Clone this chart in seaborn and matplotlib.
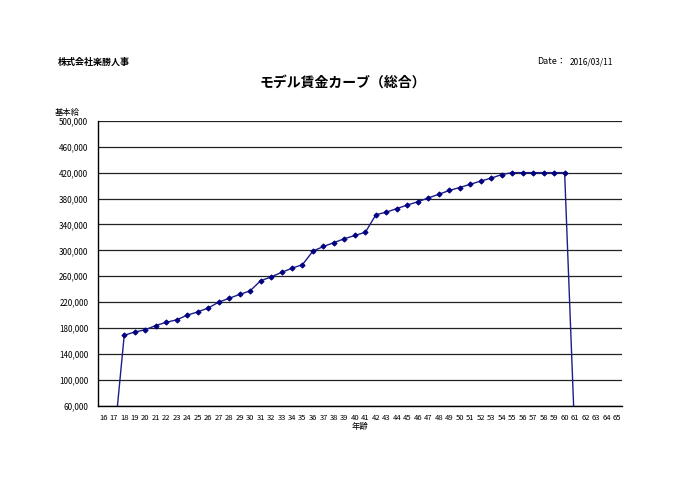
import numpy as np
import pandas as pd
import seaborn as sns
import matplotlib.pyplot as plt
from matplotlib.ticker import FuncFormatter

sns.set_style("white")
plt.rcParams['font.family'] = ['Noto Sans CJK JP', 'DejaVu Sans']
plt.rcParams['text.color'] = 'black'
plt.rcParams['xtick.color'] = 'black'
plt.rcParams['ytick.color'] = 'black'
plt.rcParams['axes.labelcolor'] = 'black'

# 年齢と基本給
ages = list(range(17, 62))
salary = [0, 169000, 174000, 177500, 184000, 189000, 192800, 200000, 205000, 211000,
          220000, 226000, 232000, 237500, 253000, 259000, 266000, 272500, 278000, 299000,
          306000, 312000, 318000, 323000, 328000, 355000, 359000, 364500, 370000, 375000,
          381000, 386500, 392500, 397000, 402000, 407000, 411500, 417000, 420000, 420000,
          420000, 420000, 420000, 420000, 0]
age_ticks = list(range(16, 66))
y_ticks = list(range(60000, 500001, 40000))

df = pd.DataFrame({"年齢": ages, "基本給": salary})

fig = plt.figure(figsize=(7, 4.95), dpi=100)
ax = fig.add_axes([0.14, 0.18, 0.749, 0.576])

sns.lineplot(data=df, x="年齢", y="基本給", ax=ax, color="#1c1c8c", lw=1,
             marker="D", markersize=2.6, markeredgecolor="#000080",
             markerfacecolor="#000080")

ax.set_xlim(15.5, 65.5)
ax.set_ylim(60000, 500000)
ax.set_yticks(y_ticks)
ax.yaxis.set_major_formatter(FuncFormatter(lambda v, p: f"{int(v):,}"))
ax.set_xticks(age_ticks)
ax.set_xticklabels([str(a) for a in age_ticks])
ax.xaxis.set_minor_locator(plt.FixedLocator([a + 0.5 for a in range(15, 66)]))
ax.tick_params(axis='x', which='major', length=0, labelsize=5.5, pad=6)
ax.tick_params(axis='x', which='minor', length=3, direction='in', width=0.8)
ax.tick_params(axis='y', length=0, labelsize=5.8, pad=7)
ax.grid(axis='y', color='#222222', lw=0.9)
ax.set_axisbelow(True)
for s in ['top', 'right']:
    ax.spines[s].set_visible(False)
for s in ['left', 'bottom']:
    ax.spines[s].set_color('black')
    ax.spines[s].set_linewidth(1)
ax.set_xlabel("年齢", fontsize=6, labelpad=0)
ax.set_ylabel("")
ax.text(-0.035, 1.015, "基本給", transform=ax.transAxes, fontsize=6, ha='right', va='bottom')

fig.text(58/700, 1 - 62/495, "株式会社楽勝人事", fontsize=6.5, fontweight='bold', va='center')
fig.text(537/700, 1 - 62/495, "Date：", fontsize=6.5, va='center')
fig.text(570/700, 1 - 62/495, "2016/03/11", fontsize=6, va='center')
fig.text(343/700, 1 - 83/495, "モデル賃金カーブ（総合）", fontsize=10, fontweight='bold',
         ha='center', va='center')

fig.savefig("out.png", dpi=100)
